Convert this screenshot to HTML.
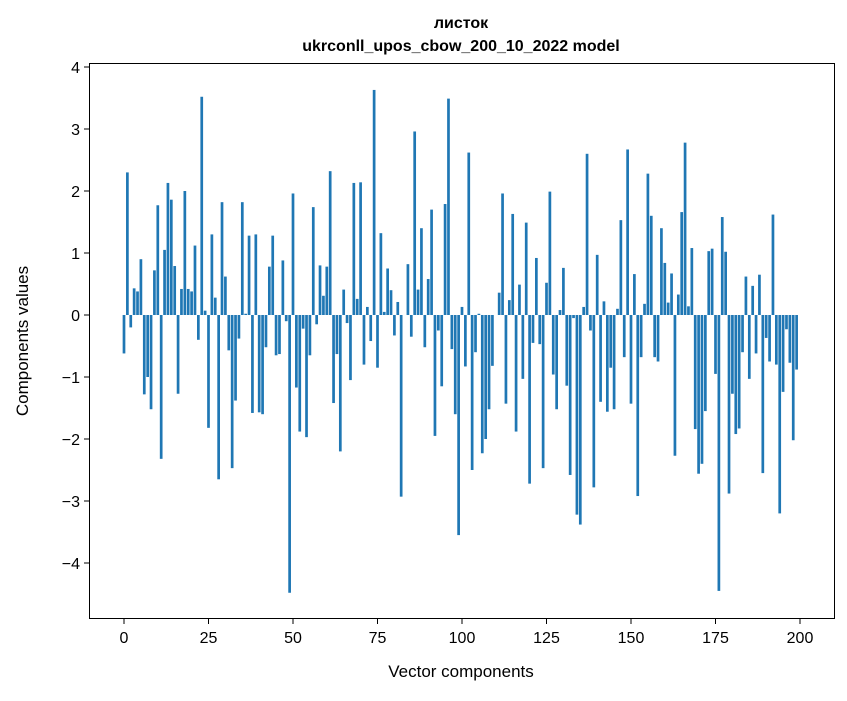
<!DOCTYPE html>
<html><head><meta charset="utf-8"><style>
body{margin:0;background:#fff;}
svg text{font-family:"Liberation Sans","DejaVu Sans",sans-serif;fill:#000;}
</style></head><body>
<svg id="chart" width="847" height="696" xmlns="http://www.w3.org/2000/svg">
<rect width="847" height="696" fill="#fff"/>
<text x="461" y="28" text-anchor="middle" font-size="16" font-weight="bold">листок</text>
<text x="461" y="51" text-anchor="middle" font-size="16" font-weight="bold">ukrconll_upos_cbow_200_10_2022 model</text>
<g id="bars"></g>
<g id="axes"></g>
<rect x="89.5" y="63.5" width="745" height="555" fill="none" stroke="#000" stroke-width="1"/>
<text x="461" y="677" text-anchor="middle" font-size="17">Vector components</text>
<text transform="translate(28,341) rotate(-90)" text-anchor="middle" font-size="17">Components values</text>
</svg>
<script>
const values = [-0.62,2.3,-0.2,0.43,0.38,0.9,-1.28,-1.0,-1.52,0.72,1.77,-2.32,1.05,2.13,1.86,0.79,-1.27,0.42,2.0,0.42,
0.38,1.12,-0.4,3.52,0.07,-1.82,1.3,0.28,-2.65,1.82,0.62,-0.57,-2.47,-1.38,-0.38,1.82,0.02,1.28,-1.58,1.3,
-1.57,-1.6,-0.52,0.78,1.28,-0.65,-0.63,0.88,-0.1,-4.48,1.96,-1.17,-1.88,-0.22,-1.97,-0.65,1.74,-0.15,0.8,0.31,
0.78,2.32,-1.42,-0.63,-2.2,0.41,-0.13,-1.05,2.13,0.26,2.14,-0.8,0.13,-0.42,3.63,-0.85,1.32,0.05,0.75,0.4,
-0.33,0.21,-2.93,0,0.82,-0.35,2.96,0.41,1.4,-0.52,0.58,1.7,-1.95,-0.25,-1.15,1.79,3.49,-0.55,-1.6,-3.55,
0.13,-0.83,2.62,-2.5,-0.6,0.02,-2.23,-2.0,-1.52,-0.82,0,0.36,1.96,-1.43,0.24,1.63,-1.88,0.49,-1.03,1.49,
-2.72,-0.45,0.92,-0.47,-2.47,0.52,1.99,-0.96,-1.52,0.08,0.76,-1.14,-2.58,-0.05,-3.22,-3.38,0.13,2.6,-0.25,-2.78,
0.97,-1.4,0.22,-1.56,-0.85,-1.52,0.1,1.53,-0.68,2.67,-1.43,0.66,-2.92,-0.68,0.18,2.28,1.6,-0.68,-0.75,1.4,
0.84,0.2,0.67,-2.27,0.33,1.66,2.78,0.14,1.08,-1.84,-2.56,-2.4,-1.55,1.03,1.07,-0.95,-4.45,1.58,1.02,-2.88,
-1.27,-1.92,-1.83,-0.6,0.62,-1.03,0.47,-0.62,0.65,-2.55,-0.37,-0.75,1.62,-0.8,-3.2,-1.24,-0.23,-0.77,-2.02,-0.88];
const xTicks = [0,25,50,75,100,125,150,175,200];
const yTicks = [-4,-3,-2,-1,0,1,2,3,4];
const NS='http://www.w3.org/2000/svg';
function xs(v){return 124+v*3.38;}
function ys(v){return 315-v*62;}
const bars=document.getElementById('bars');
values.forEach((v,i)=>{
  const r=document.createElementNS(NS,'rect');
  
  
  const x0=xs(i-0.4), x1=xs(i+0.4);
  r.setAttribute('x',x0);r.setAttribute('width',x1-x0);
  r.setAttribute('y',Math.min(ys(v),ys(0)));r.setAttribute('height',Math.abs(ys(v)-ys(0)));
  r.setAttribute('fill','#1f77b4');
  bars.appendChild(r);
});
const axes=document.getElementById('axes');
xTicks.forEach(t=>{
  const l=document.createElementNS(NS,'line');
  
  
  l.setAttribute('x1',xs(t));l.setAttribute('x2',xs(t));l.setAttribute('y1',619);l.setAttribute('y2',624);l.setAttribute('stroke','#000');
  axes.appendChild(l);
  const tx=document.createElementNS(NS,'text');
  
  
  tx.setAttribute('x',xs(t));tx.setAttribute('y',643);tx.setAttribute('text-anchor','middle');tx.setAttribute('font-size','16');
  tx.textContent=t;axes.appendChild(tx);
});
yTicks.forEach(t=>{
  const l=document.createElementNS(NS,'line');
  
  
  l.setAttribute('x1',84);l.setAttribute('x2',89);l.setAttribute('y1',ys(t));l.setAttribute('y2',ys(t));l.setAttribute('stroke','#000');
  axes.appendChild(l);
  const tx=document.createElementNS(NS,'text');
  
  
  tx.setAttribute('x',80);tx.setAttribute('y',ys(t)+6);tx.setAttribute('text-anchor','end');tx.setAttribute('font-size','16');
  tx.textContent=t<0?'\u2212'+(-t):t;axes.appendChild(tx);
});
</script>
</body></html>
